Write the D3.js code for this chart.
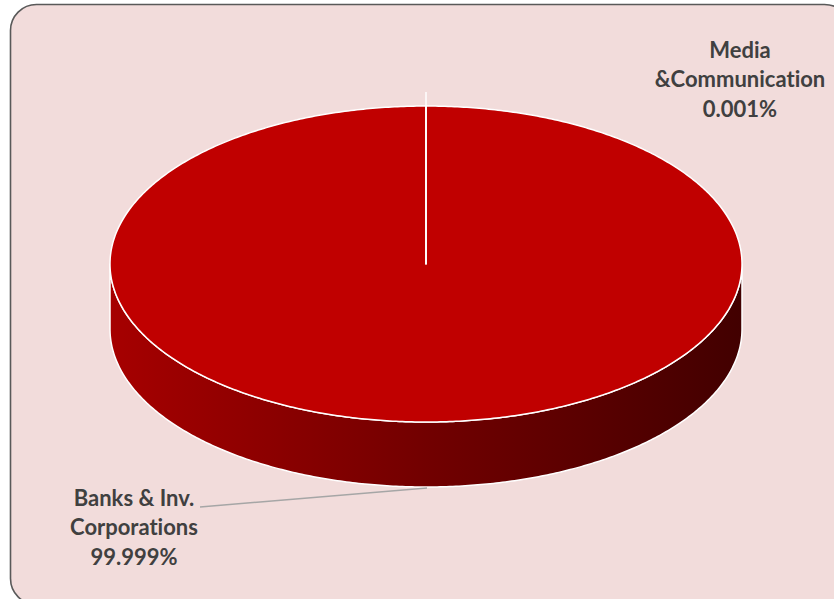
<!DOCTYPE html>
<html><head><meta charset="utf-8">
<script src="https://cdn.jsdelivr.net/npm/d3@7"></script>
<style>html,body{margin:0;padding:0;background:#fff;}svg{display:block;}text{font-variant-ligatures:none;font-feature-settings:"liga" 0;}</style>
</head><body>
<svg id="chart" width="834" height="599"></svg>
<script>
const categories = ["Banks & Inv. Corporations", "Media &Communication"];
const values = [99.999, 0.001];
const labelLines = [["Banks & Inv.", "Corporations", "99.999%"], ["Media", "&Communication", "0.001%"]];

const W = 834, H = 599;
const svg = d3.select("#chart");
const defs = svg.append("defs");
const grad = defs.append("linearGradient").attr("id", "side").attr("gradientUnits", "userSpaceOnUse")
  .attr("x1", 110).attr("x2", 742).attr("y1", 0).attr("y2", 0);
grad.append("stop").attr("offset", "0").attr("stop-color", "#a60000");
grad.append("stop").attr("offset", "0.5").attr("stop-color", "#720000");
grad.append("stop").attr("offset", "1").attr("stop-color", "#420000");

svg.append("rect").attr("x", 10.5).attr("y", 4.5).attr("width", 840).attr("height", 600)
  .attr("rx", 26).attr("fill", "#f2dcdb").attr("stroke", "#595959").attr("stroke-width", 1.6);

const cx = 426, cy = 264, rx = 316, ry = 158, depth = 65;
const pt = (a, dy = 0) => [cx + rx * Math.sin(a), cy - ry * Math.cos(a) + dy];
const pie = d3.pie().sort(null).value(d => d)(values);
const line = d3.line();

function arcPts(a0, a1, dy) {
  const n = Math.max(2, Math.ceil(Math.abs(a1 - a0) / 0.01));
  return d3.range(n + 1).map(i => pt(a0 + (a1 - a0) * i / n, dy));
}

// side walls (front half)
const g = svg.append("g");
pie.forEach(s => {
  const a0 = Math.max(s.startAngle, Math.PI / 2), a1 = Math.min(s.endAngle, 3 * Math.PI / 2);
  if (a1 <= a0) return;
  const pts = arcPts(a0, a1, 0).concat(arcPts(a1, a0, depth));
  g.append("path").attr("d", line(pts) + "Z").attr("fill", "url(#side)")
    .attr("stroke", "#fff").attr("stroke-width", 1.5).attr("stroke-linejoin", "round");
});
// top faces
const topColors = ["#c00000", "#c00000"];
pie.forEach((s, i) => {
  const pts = [[cx, cy]].concat(arcPts(s.startAngle, s.endAngle, 0));
  g.append("path").attr("d", line(pts) + "Z").attr("fill", topColors[i])
    .attr("stroke", "#fff").attr("stroke-width", 1.5).attr("stroke-linejoin", "round");
});
// slice boundary line from center (small slice edge, slightly exploded)
g.append("line").attr("x1", cx).attr("y1", cy).attr("x2", pt(pie[1].endAngle)[0]).attr("y2", pt(pie[1].endAngle)[1] - 14)
  .attr("stroke", "#fff").attr("stroke-width", 1.5);

// leader for Banks
const mid0 = (pie[0].startAngle + pie[0].endAngle) / 2;
const lp = pt(mid0, depth);
svg.append("path").attr("d", line([[lp[0] + 1, lp[1] + 1], [200, 507]])).attr("fill", "none")
  .attr("stroke", "#a6a6a6").attr("stroke-width", 1.5);

const labelPos = [[134, 498], [740, 50]];
labelLines.forEach((lines, i) => {
  const t = svg.append("text").attr("text-anchor", "middle")
    .attr("font-family", "Lato, 'Open Sans', sans-serif").attr("font-weight", "bold")
    .attr("font-size", 22).attr("fill", "#404040");
  lines.forEach((l, j) => t.append("tspan").attr("x", labelPos[i][0]).attr("y", labelPos[i][1] + j * 29.5)
    .attr("dy", "0.35em").text(l));
});
</script>
</body></html>
